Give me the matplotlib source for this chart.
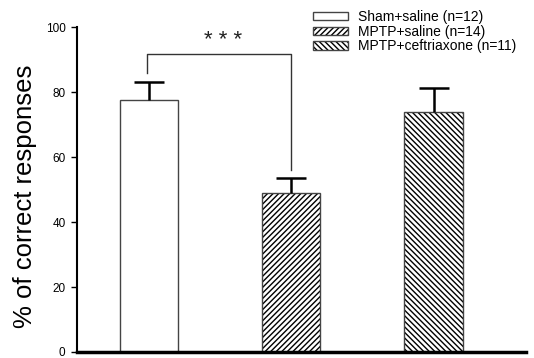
import matplotlib
matplotlib.use("Agg")
import matplotlib.pyplot as plt

plt.rcParams['font.family'] = ['Liberation Sans', 'DejaVu Sans']
plt.rcParams['hatch.linewidth'] = 1.0

groups = ["Sham+saline (n=12)", "MPTP+saline (n=14)", "MPTP+ceftriaxone (n=11)"]
means = [77.7, 48.9, 74.0]
sems = [5.5, 4.8, 7.4]
hatches = ["", "//////", "\\\\\\\\\\\\"]

# significance bracket between group 0 and group 1
bracket_top = 91.9
bracket_left_end = 85.9
bracket_right_end = 56.2
sig_label = "* * *"


def main():
    fig = plt.figure(figsize=(5.34, 3.58), dpi=100)
    ax = fig.add_axes([0.1436, 0.0168, 0.8414, 0.9069])

    x = list(range(len(means)))
    bars = ax.bar(x, means, width=0.41, color="white", edgecolor="#444444",
                  linewidth=1.0, hatch=hatches, label=groups, zorder=2)
    for b in bars:
        b._hatch_color = (0, 0, 0, 1)

    # upper error bars only
    eb = ax.errorbar(x, means, yerr=[[0] * len(sems), sems], fmt="none",
                     ecolor="black", elinewidth=1.8, capsize=10.8,
                     capthick=1.8, zorder=3)
    caps = eb[1]
    if len(caps) == 2:
        caps[0].set_visible(False)

    # bracket
    ax.plot([0 - 0.012, 0 - 0.012, 1, 1],
            [bracket_left_end, bracket_top, bracket_top, bracket_right_end],
            color="#333333", linewidth=1.0, zorder=1)
    ax.text(0.52, 95.8, sig_label, ha="center", va="center",
            fontsize=16, color="#222222")

    ax.set_xlim(-0.508, 2.649)
    ax.set_ylim(0, 100)
    ax.set_yticks([0, 20, 40, 60, 80, 100])
    ax.set_xticks([])
    ax.tick_params(axis="y", direction="out", length=4, width=1,
                   labelsize=8.5, pad=4)
    ax.spines["top"].set_visible(False)
    ax.spines["right"].set_visible(False)
    ax.spines["left"].set_linewidth(1.5)
    ax.spines["bottom"].set_linewidth(2.5)
    ax.set_ylabel("% of correct responses", fontsize=18.5, va="center")
    ax.yaxis.set_label_coords(-0.115, 0.48)

    ax.legend(loc="upper left", bbox_to_anchor=(313 / 534, 0.972),
              bbox_transform=fig.transFigure, frameon=False, fontsize=10,
              handlelength=2.5, handleheight=0.55, handletextpad=0.72,
              labelspacing=0.05, borderpad=0, borderaxespad=0)

    fig.savefig("out.png", dpi=100)


if __name__ == "__main__":
    main()
